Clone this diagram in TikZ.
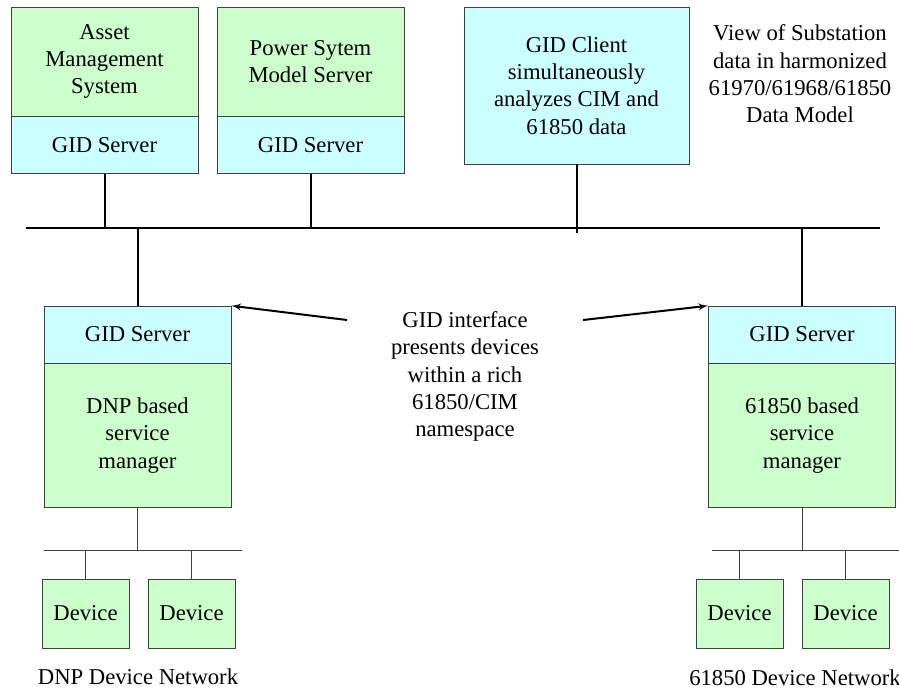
\documentclass[tikz,border=0pt]{standalone}
\usepackage{fontspec}
\setmainfont{Liberation Serif}
\usepackage{tikz}
\usetikzlibrary{positioning,arrows}
\definecolor{boxgreen}{HTML}{CCFFCC}
\definecolor{boxblue}{HTML}{CCFFFF}
\definecolor{boxedge}{HTML}{404040}
\tikzstyle{sysbox} = [draw=boxedge, fill=boxgreen, rectangle, align=center, minimum width=140.25pt, inner sep=2pt, font=\fontsize{17}{20.5}\selectfont]
\tikzstyle{gidbox} = [sysbox, fill=boxblue, minimum height=42.75pt]
\tikzstyle{device} = [sysbox, minimum width=65.25pt, minimum height=51.75pt]
\tikzstyle{note} = [align=center, font=\fontsize{17}{20.5}\selectfont]
\tikzstyle{bus} = [line width=2.2pt]
\tikzstyle{link} = [line width=1.5pt]
\tikzstyle{tap} = [draw=boxedge, line width=0.75pt]

\begin{document}
\begin{tikzpicture}[x=0.75pt, y=-0.75pt, >=latex']
    \useasboundingbox (0,0) rectangle (899,689);
    % top row
    \node [sysbox, minimum height=81.75pt] (ams) at (104.5,61.5) {Asset\\Management\\System};
    \node [gidbox, below=0pt of ams] (amsgid) {GID Server};
    \node [sysbox, minimum height=81.75pt] (psm) at (310.5,61.5) {Power Sytem\\Model Server};
    \node [gidbox, below=0pt of psm] (psmgid) {GID Server};
    \node [sysbox, fill=boxblue, minimum width=168.75pt, minimum height=117.75pt] (client) at (576.5,85.5) {GID Client\\simultaneously\\analyzes CIM and\\61850 data};
    \node [note] (view) at (800,74) {View of Substation\\data in harmonized\\61970/61968/61850\\Data Model};
    % bus
    \coordinate (busw) at (26,228);
    \coordinate (buse) at (880,228);
    \draw [bus] (busw) -- (buse);
    \draw [link] (amsgid) -- (amsgid |- busw);
    \draw [link] (psmgid) -- (psmgid |- busw);
    \draw [link] (client) -- ([yshift=-4pt]client |- busw);
    % service managers
    \node [gidbox] (dnpgid) at (137.5,334.5) {GID Server};
    \node [sysbox, minimum height=108pt, below=0pt of dnpgid] (dnp) {DNP based\\service\\manager};
    \node [gidbox] (iecgid) at (802,334.5) {GID Server};
    \node [sysbox, minimum height=108pt, below=0pt of iecgid] (iec) {61850 based\\service\\manager};
    \draw [link] (dnpgid) -- (dnpgid |- busw);
    \draw [link] (iecgid) -- (iecgid |- busw);
    \node [note] (gidif) at (465,376.5) {GID interface\\presents devices\\within a rich\\61850/CIM\\namespace};
    \coordinate (arrl) at (347,320);
    \coordinate (arrr) at (583,320);
    \draw [->, link] (arrl) -- (dnpgid.north east);
    \draw [->, link] (arrr) -- (iecgid.north west);
    % device networks
    \coordinate (dnpbusw) at (44,550);
    \coordinate (dnpbuse) at (242,550);
    \coordinate (iecbusw) at (712,550);
    \coordinate (iecbuse) at (899,550);
    \draw [tap] (dnpbusw) -- (dnpbuse);
    \draw [tap] (iecbusw) -- (iecbuse);
    \draw [tap] (dnp) -- (dnp |- dnpbusw);
    \draw [tap] (iec) -- (iec |- iecbusw);
    \node [device] (dnpdev1) at (85.5,613.5) {Device};
    \node [device] (dnpdev2) at (191.5,613.5) {Device};
    \node [device] (iecdev1) at (739.5,613.5) {Device};
    \node [device] (iecdev2) at (845.5,613.5) {Device};
    \draw [tap] (dnpdev1) -- (dnpdev1 |- dnpbusw);
    \draw [tap] (dnpdev2) -- (dnpdev2 |- dnpbusw);
    \draw [tap] (iecdev1) -- (iecdev1 |- iecbusw);
    \draw [tap] (iecdev2) -- (iecdev2 |- iecbusw);
    \node [note] (dnpnet) at (138,677) {DNP Device Network};
    \node [note] (iecnet) at (795,678) {61850 Device Network};
\end{tikzpicture}
\end{document}
